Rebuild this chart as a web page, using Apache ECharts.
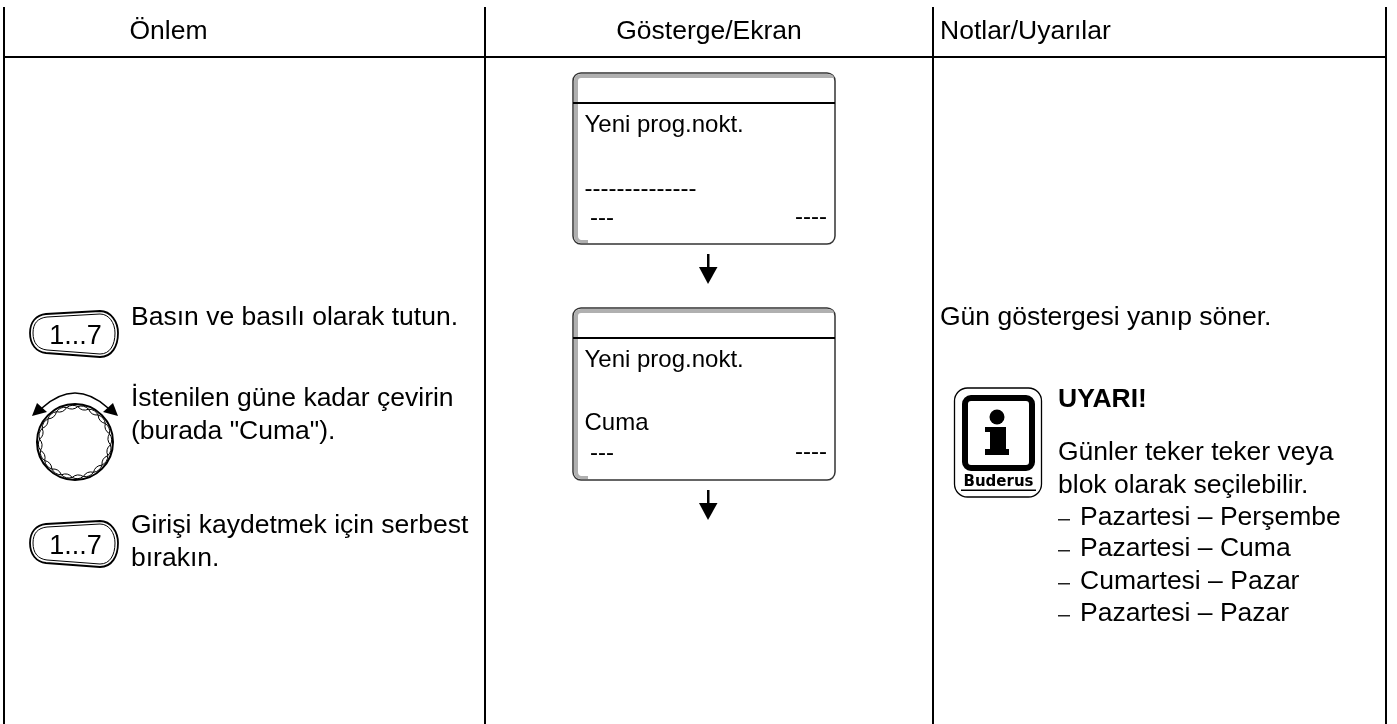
<!DOCTYPE html>
<html><head><meta charset="utf-8">
<style>html,body{margin:0;padding:0;background:#fff}#c{width:1397px;height:724px}</style>
<script src="https://cdn.jsdelivr.net/npm/echarts@6/dist/echarts.min.js"></script>
</head><body><div id="c"></div>
<script>
const headerLabels = ["Önlem", "Gösterge/Ekran", "Notlar/Uyarılar"];
const actionLabels = ["Basın ve basılı olarak tutun.", "İstenilen güne kadar çevirin", "(burada \"Cuma\").", "Girişi kaydetmek için serbest", "bırakın."];
const displayTitle = "Yeni prog.nokt.";
const displayValues = ["--------------", "Cuma"];
const displayFooter = ["---", "----"];
const buttonLabel = "1...7";
const noteLead = "Gün göstergesi yanıp söner.";
const noteTitle = "UYARI!";
const noteBody = ["Günler teker teker veya", "blok olarak seçilebilir."];
const noteList = ["Pazartesi – Perşembe", "Pazartesi – Cuma", "Cumartesi – Pazar", "Pazartesi – Pazar"];
const brand = "Buderus";

const FF = '"Liberation Sans", Arial, sans-serif';
const BIG = 26.5;
const els = [];
const txt = (t, x, y, size, o = {}) => els.push({type:'text', style:{text:t, x, y, font:`${o.bold?'bold ':''}${size}px ${o.family||FF}`, fill:o.fill||'#000', textAlign:o.align||'left', textVerticalAlign:'middle'}});
const rectF = (x, y, w, h, fill) => els.push({type:'rect', shape:{x,y,width:w,height:h}, style:{fill}});
const path = (d, st) => els.push({type:'path', shape:{pathData:d}, style:st});

// grid rules
[3,484,932,1385].forEach(x => rectF(x, 7, 2, 717, '#000'));
rectF(3, 56, 1384, 2, '#000');

// headers
txt(headerLabels[0], 168.5, 32, BIG, {align:'center'});
txt(headerLabels[1], 709, 32, BIG, {align:'center'});
txt(headerLabels[2], 940, 32, BIG);

// push button
function button(dy){
  const o = (a,b)=>a+','+(b+dy);
  path(`M${o(46,314)} L${o(100,311)} C${o(111,311)} ${o(118,322)} ${o(118,333)} C${o(118,346)} ${o(112,357)} ${o(100,357)} L${o(46,353)} C${o(36,352)} ${o(30,344)} ${o(30,333)} C${o(30,322)} ${o(36,315)} ${o(46,314)} Z`, {fill:'#fff', stroke:'#000', lineWidth:1.8});
  path(`M${o(47,317)} L${o(100,314)} C${o(109,314)} ${o(115,323)} ${o(115,333)} C${o(115,345)} ${o(110,354)} ${o(100,354)} L${o(47,350)} C${o(38,349)} ${o(33,343)} ${o(33,333)} C${o(33,323)} ${o(38,318)} ${o(47,317)} Z`, {fill:'#fff', stroke:'#000', lineWidth:1});
  txt(buttonLabel, 75.5, 337+dy, 27, {align:'center'});
}
button(0); button(210);

// dial
const cx=75, cy=442;
els.push({type:'circle', shape:{cx,cy,r:38}, style:{fill:'#fff', stroke:'#000', lineWidth:2}});
(function(){
  const n=20; let d='';
  const p=(t,r)=>(cx+r*Math.cos(t)).toFixed(1)+','+(cy+r*Math.sin(t)).toFixed(1);
  for(let i=0;i<n;i++){
    const a=(i+.25)/n*2*Math.PI, m=(i+.75)/n*2*Math.PI, b=(i+1.25)/n*2*Math.PI;
    d+=' M'+p(a,35.5)+' Q'+p(m,38.5)+' '+p(b,35.5)+' Q'+p(m,31)+' '+p(a,35.5);
  }
  path(d,{fill:'none',stroke:'#000',lineWidth:1});
})();
path('M42,408 Q75,378 108,408',{fill:'none',stroke:'#000',lineWidth:1.6});
path('M32,416 L37,403 L47,412 Z',{fill:'#000'});
path('M118,416 L113,403 L103,412 Z',{fill:'#000'});

// action text
[318,399,432,526,559].forEach((y,i)=>txt(actionLabels[i],131,y,BIG));

// displays
function display(top, bottom, value, isDashes){
  els.push({type:'rect', shape:{x:573,y:top,width:262,height:bottom-top,r:8}, style:{fill:'#fff',stroke:'#333',lineWidth:1.5}});
  path(`M574,${top+8} Q574,${top+1} 581,${top+1} L827,${top+1} Q834,${top+1} 834,${top+5} L581,${top+5} Q578,${top+5} 578,${top+8} L578,${bottom-8} Q578,${bottom-5} 581,${bottom-4} L588,${bottom-4} L588,${bottom-1} L581,${bottom-1} Q574,${bottom-1} 574,${bottom-8} Z`,{fill:'#b0b0b0'});
  rectF(573,top+29,262,2,'#000');
  txt(displayTitle,584.5,top+52.5,24);
  txt(value,584.5,top+(isDashes?116:115.5),24);
  txt(displayFooter[0],590,top+145,24);
  txt(displayFooter[1],795,top+144,24);
}
display(73,244,displayValues[0],true);
display(308,480,displayValues[1],false);

// flow arrows
function arrow(y){
  rectF(707,y,2.5,16,'#000');
  path(`M699,${y+13} L717.5,${y+13} L708,${y+30} Z`,{fill:'#000'});
}
arrow(254); arrow(490);

// notes
txt(noteLead,940,318,BIG);
txt(noteTitle,1058,400,BIG,{bold:true});
txt(noteBody[0],1058,453,BIG);
txt(noteBody[1],1058,486,BIG);
[518,549,582,614].forEach((y,i)=>{
  rectF(1058,y+1,12,1.5,'#222');
  txt(noteList[i],1080,y,BIG);
});

// info logo
els.push({type:'rect', shape:{x:954.5,y:388,width:87,height:109,r:13}, style:{fill:'#fff',stroke:'#000',lineWidth:1.3}});
els.push({type:'rect', shape:{x:965,y:398,width:67,height:70,r:6}, style:{fill:'#fff',stroke:'#000',lineWidth:6}});
els.push({type:'circle', shape:{cx:997,cy:417,r:7.5}, style:{fill:'#000'}});
path('M985,427 L1006,427 L1006,449 L1009,449 L1009,455 L985,455 L985,449 L990,449 L990,432 L985,432 Z',{fill:'#000'});
txt(brand,998.5,482,15,{bold:true,align:'center',family:'"DejaVu Sans", sans-serif'});
rectF(961,489.5,75,1.5,'#000');

const chart = echarts.init(document.getElementById('c'),null,{renderer:'canvas'});
chart.setOption({backgroundColor:'#fff', animation:false, series:[{type:'custom', coordinateSystem:'none', silent:true, data:[0], renderItem:()=>({type:'group',children:els})}]});
</script></body></html>
